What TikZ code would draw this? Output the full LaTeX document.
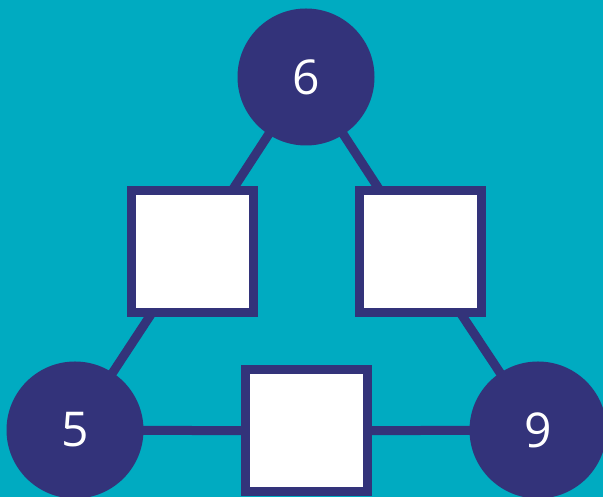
\documentclass[tikz,border=0pt]{standalone}
\usepackage{fontspec}
\setmainfont{Open Sans}
\usetikzlibrary{shapes}
\definecolor{teal}{RGB}{0,171,193}
\definecolor{navy}{RGB}{51,51,122}
\pgfdeclarelayer{bg}
\pgfsetlayers{bg,main}
\tikzset{num/.style={circle, fill=navy, minimum size=137pt, inner sep=0pt, text=white, font=\fontsize{48}{52}\selectfont},
  blank/.style={rectangle, draw=navy, line width=9pt, fill=white, minimum size=122pt, inner sep=0pt},
  link/.style={draw=navy, line width=9pt}}

\begin{document}
\begin{tikzpicture}[x=1pt,y=1pt]
\useasboundingbox (0,0) rectangle (603,497);
\begin{pgfonlayer}{bg}
\fill[teal] (0,0) rectangle (603,497);
\end{pgfonlayer}
\node[num] (six) at (306,420) {6};
\node[num] (five) at (75,67) {5};
\node[num] (nine) at (538,67) {9};
\node[blank] (left) at (192,245) {};
\node[blank] (right) at (420,245) {};
\node[blank] (bottom) at (306,66) {};
\begin{pgfonlayer}{bg}
\draw[link] (six.center)--(left.center)--(five.center);
\draw[link] (six.center)--(right.center)--(nine.center);
\draw[link] (five.center)--(bottom.center)--(nine.center);
\end{pgfonlayer}
\end{tikzpicture}
\end{document}
